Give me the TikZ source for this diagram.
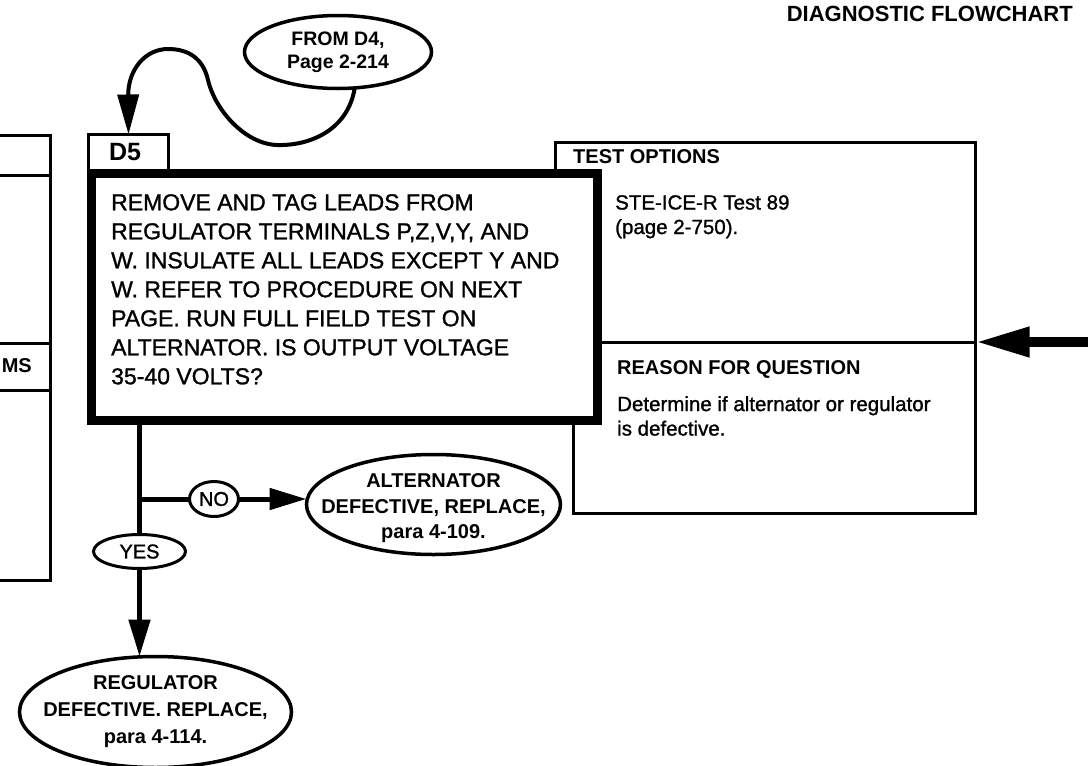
\documentclass[tikz,border=0pt]{standalone}
\usepackage{fontspec}
\setmainfont{Liberation Sans}
\newfontfamily\medfont{Liberation Sans}[FakeBold=1.2]
\usetikzlibrary{arrows.meta,shapes.geometric}
\begin{document}
\begin{tikzpicture}[x=1pt,y=-1pt,
  thinbox/.style={draw, rectangle, line width=3pt, inner sep=0pt, outer sep=0pt},
  thickbox/.style={draw, rectangle, line width=9pt, fill=white, inner sep=0pt, outer sep=0pt},
  ellshape/.style={draw, ellipse, line width=3.5pt, inner sep=0pt, outer sep=0pt, fill=white},
  elltext/.style={align=center, inner sep=0pt, font=\bfseries\fontsize{20}{25.5}\selectfont},
  answer/.style={draw, ellipse, line width=3pt, inner sep=0pt, outer sep=0pt, fill=white, font=\medfont\fontsize{20}{24}\selectfont},
  bodytext/.style={align=left, inner sep=0pt, font=\medfont\fontsize{20.5}{24.5}\selectfont},
  headtext/.style={inner sep=0pt, font=\bfseries\fontsize{20}{24}\selectfont},
  conn/.style={line width=5pt},
  arr/.style={conn, -{Triangle[length=37pt,width=21pt]}},
  curvearr/.style={line width=4pt, -{Triangle[length=40pt,width=21pt]}},
  bigarr/.style={line width=10pt, -{Triangle[length=54pt,width=28pt]}}
]
\useasboundingbox (0,0) rectangle (1088,766);

% partial box at the left edge
\draw[line width=3pt] (-20,135) -- (50.5,135) -- (50.5,580) -- (-20,580);
\draw[line width=3pt] (-20,175) -- (50.5,175);
\draw[line width=3pt] (-20,343) -- (50.5,343);
\draw[line width=3pt] (-20,390) -- (50.5,390);
\node[headtext, anchor=east] (ms) at (32,366) {MS};

% title
\node[inner sep=0pt, anchor=east, font=\bfseries\fontsize{22}{26}\selectfont] (title) at (1073,14) {DIAGNOSTIC FLOWCHART};

% side boxes
\node[thinbox, anchor=north west, minimum width=420pt, minimum height=199.5pt] (testbox) at (555.5,142.5) {};
\node[thinbox, anchor=north west, minimum width=402pt, minimum height=171.5pt] (reasonbox) at (573.5,342) {};

% D5 tab and main box
\node[thinbox, anchor=north west, minimum width=80pt, minimum height=40pt] (d5) at (88.5,134.5) {};
\node[thickbox, anchor=north west, minimum width=506pt, minimum height=247pt] (mainbox) at (91.5,173.5) {};
\node[inner sep=0pt, font=\bfseries\fontsize{25}{28}\selectfont] (d5t) at (125,152) {D5};

\node[align=left, inner sep=0pt, anchor=north west, font=\medfont\fontsize{23}{29}\selectfont] (question) at (111,194)
 {REMOVE AND TAG LEADS FROM\\REGULATOR TERMINALS P,Z,V,Y, AND\\W. INSULATE ALL LEADS EXCEPT Y AND\\W. REFER TO PROCEDURE ON NEXT\\PAGE. RUN FULL FIELD TEST ON\\ALTERNATOR. IS OUTPUT VOLTAGE\\35-40 VOLTS?};

% side box texts
\node[headtext, anchor=west] (testhead) at (573,157) {TEST OPTIONS};
\node[bodytext, anchor=north west] (testbody) at (615,195) {STE-ICE-R Test 89\\(page 2-750).};
\node[headtext, anchor=west] (reasonhead) at (617,369) {REASON FOR QUESTION};
\node[bodytext, anchor=north west] (reasonbody) at (617,396) {Determine if alternator or regulator\\is defective.};

% terminals
\node[ellshape, minimum width=187pt, minimum height=73pt] (from) at (338,52) {};
\node[elltext, font=\bfseries\fontsize{19.5}{23}\selectfont] (fromt) at (from.center) {FROM D4,\\Page 2-214};

\node[ellshape, minimum width=254pt, minimum height=100pt] (alt) at (433.5,504.5) {};
\node[elltext, yshift=-4pt] (altt) at (alt.center) {ALTERNATOR\\DEFECTIVE, REPLACE,\\para 4-109.};

\node[ellshape, minimum width=272pt, minimum height=111pt] (reg) at (155.5,712) {};
\node[elltext, font=\bfseries\fontsize{20}{27}\selectfont] (regt) at (reg.center) {REGULATOR\\DEFECTIVE. REPLACE,\\para 4-114.};

\node[answer, minimum width=92pt, minimum height=34pt] (yes) at (139.5,551.5) {YES};
\node[answer, minimum width=49pt, minimum height=35pt] (no) at (214,499) {NO};

% connectors
\draw[curvearr] (from.-65) .. controls (348,130) and (310,146) .. (277,145)
  .. controls (245,144) and (215,110) .. (208,80)
  .. controls (203,58) and (188,49) .. (168,49)
  .. controls (145,49) and (128,70) .. (d5.north);

\draw[conn] (mainbox.south -| yes.north) -- (yes.north);
\draw[conn] (yes.north |- no.west) -- (no.west);
\draw[arr] (no.east) -- (no.east -| alt.west);
\draw[arr] (yes.south) -- (yes.south |- reg.north);

\coordinate (rin) at (1088,342);
\draw[bigarr] (rin) -- (testbox.south east);
\end{tikzpicture}
\end{document}
